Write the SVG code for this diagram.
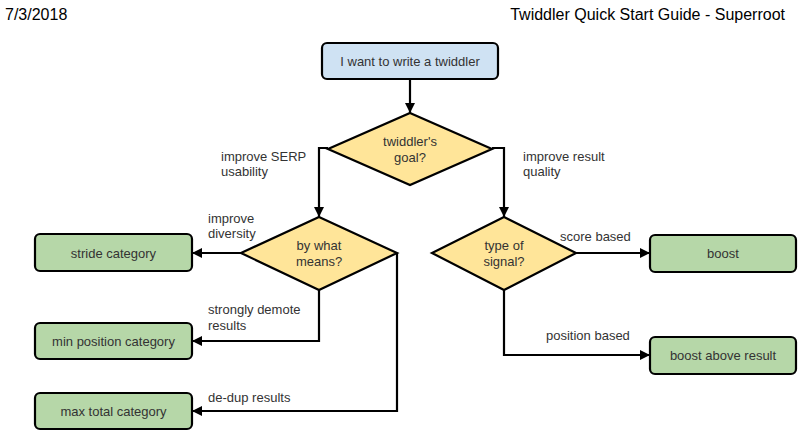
<svg xmlns="http://www.w3.org/2000/svg" width="800" height="436" viewBox="0 0 800 436">
<defs>
<marker id="arr" viewBox="0 0 10 10" refX="10" refY="5" markerWidth="11" markerHeight="10" markerUnits="userSpaceOnUse" orient="auto">
<path d="M0,0 L10,5 L0,10 Z" fill="#000"/>
</marker>
</defs>
<style>
text{font-family:"Liberation Sans",Arial,sans-serif;font-size:13px;fill:#333}
.hdr{font-size:16px;fill:#000}
.node text{text-anchor:middle}
.start{fill:#cfe2f3;stroke:#000;stroke-width:2.2}
.dec{fill:#ffe599;stroke:#000;stroke-width:2.2;stroke-linejoin:miter}
.end{fill:#b6d7a8;stroke:#000;stroke-width:2.2}
.conn path{fill:none;stroke:#000;stroke-width:2.2;marker-end:url(#arr)}
</style>
<rect width="800" height="436" fill="#fff"/>
<text class="hdr" x="5" y="20">7/3/2018</text>
<text class="hdr" x="785" y="20" text-anchor="end">Twiddler Quick Start Guide - Superroot</text>

<g id="connectors" class="conn">
<path d="M410,79 V113"/>
<path d="M328,148 H319 V217"/>
<path d="M492,148 H504 V217"/>
<path d="M241,253 H192"/>
<path d="M319,290 V341 H192"/>
<path d="M397,253 V411 H192"/>
<path d="M576,253 H650"/>
<path d="M504,290 V355 H650"/>
</g>

<g id="labels">
<text x="221" y="161">improve SERP</text>
<text x="221" y="176">usability</text>
<text x="523" y="161">improve result</text>
<text x="523" y="176">quality</text>
<text x="208" y="223">improve</text>
<text x="208" y="238">diversity</text>
<text x="208" y="314">strongly demote</text>
<text x="208" y="330">results</text>
<text x="208" y="402">de-dup results</text>
<text x="560" y="241">score based</text>
<text x="546" y="340">position based</text>
</g>

<g id="start" class="node">
<rect class="start" x="322" y="43" width="176" height="36" rx="5"/>
<text x="410" y="66">I want to write a twiddler</text>
</g>
<g id="goal" class="node">
<polygon class="dec" points="410,113 492,149 410,185 328,149"/>
<text x="410" y="146">twiddler's</text>
<text x="410" y="162">goal?</text>
</g>
<g id="means" class="node">
<polygon class="dec" points="319,217 397,253 319,290 241,253"/>
<text x="319" y="250">by what</text>
<text x="319" y="266">means?</text>
</g>
<g id="signal" class="node">
<polygon class="dec" points="504,217 576,253 504,290 432,253"/>
<text x="504" y="250">type of</text>
<text x="504" y="266">signal?</text>
</g>
<g id="stride" class="node">
<rect class="end" x="35" y="234" width="157" height="37" rx="5"/>
<text x="113.5" y="258">stride category</text>
</g>
<g id="minpos" class="node">
<rect class="end" x="35" y="323" width="157" height="36" rx="5"/>
<text x="113.5" y="346">min position category</text>
</g>
<g id="maxtotal" class="node">
<rect class="end" x="35" y="393" width="157" height="36" rx="5"/>
<text x="113.5" y="416">max total category</text>
</g>
<g id="boost" class="node">
<rect class="end" x="650" y="235" width="146" height="37" rx="5"/>
<text x="723" y="258">boost</text>
</g>
<g id="boostabove" class="node">
<rect class="end" x="650" y="337" width="146" height="37" rx="5"/>
<text x="723" y="360">boost above result</text>
</g>
</svg>
